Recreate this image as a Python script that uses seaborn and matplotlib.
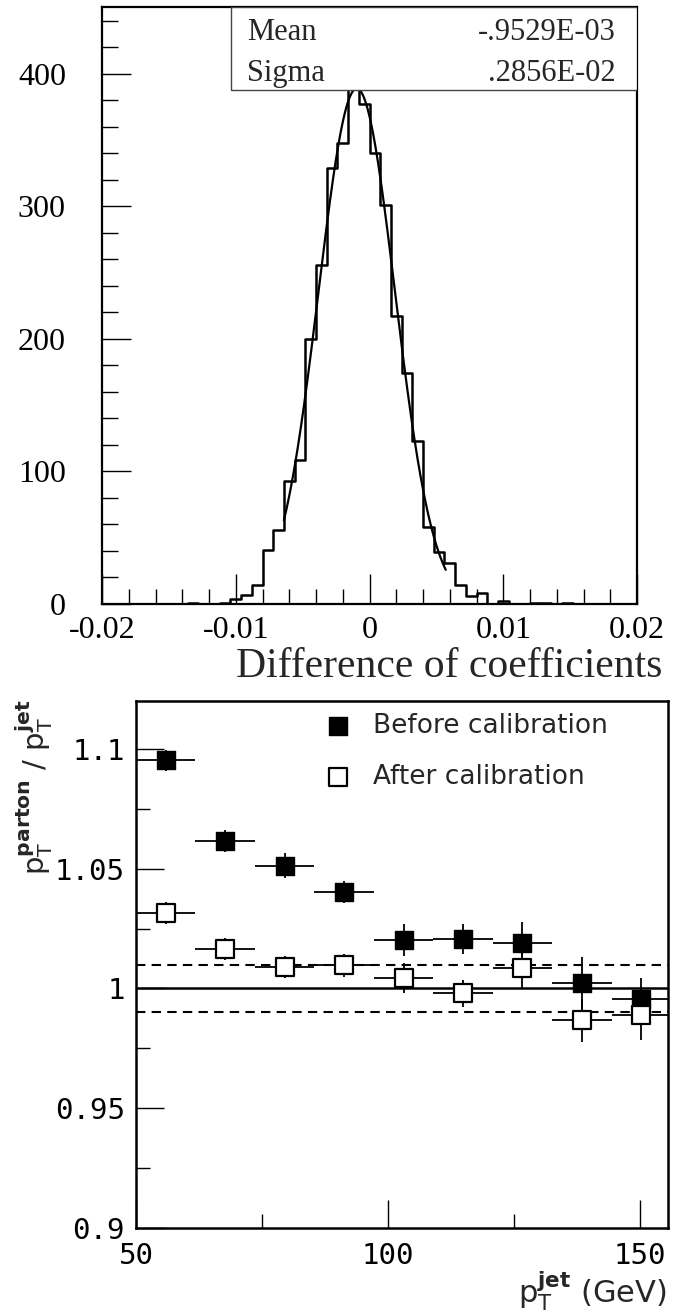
import numpy as np
import pandas as pd
import matplotlib
matplotlib.use("Agg")
import matplotlib.pyplot as plt
from matplotlib.patches import Rectangle
from matplotlib.ticker import MultipleLocator, FixedLocator
import seaborn as sns

# ---------------- data: top panel (histogram of coefficient differences)
hist_lo, hist_hi, n_bins = -0.02, 0.02, 50
hist_counts = [0, 0, 0, 0, 0, 0, 0, 0, 1, 0,
               0, 1, 4, 7, 14, 41, 56, 93, 109, 200,
               256, 329, 348, 402, 377, 340, 301, 217, 174, 123,
               58, 39, 31, 14, 6, 8, 0, 2, 0, 0,
               1, 1, 0, 1, 0, 0, 0, 0, 0, 0]
fit_amp = 389.0
fit_mean = -0.9529e-3
fit_sigma = 0.2856e-2
fit_range = (-0.0064, 0.0057)
stat_names = ["Mean", "Sigma"]
stat_values = ["-.9529E-03", ".2856E-02"]
top_xticks = [-0.02, -0.01, 0.0, 0.01, 0.02]
top_xticklabels = ["-0.02", "-0.01", "0", "0.01", "0.02"]
top_yticks = [0, 100, 200, 300, 400]
top_yticklabels = ["0", "100", "200", "300", "400"]

# ---------------- data: bottom panel (ratio vs jet pT)
pt_jet = [55.9, 67.7, 79.5, 91.3, 103.1, 114.9, 126.7, 138.5, 150.3]
pt_halfwidth = 5.9
ratio_before = [1.0952, 1.0615, 1.0513, 1.0401, 1.0202, 1.0208, 1.0188, 1.0021, 0.9958]
err_before = [0.0045, 0.0045, 0.0053, 0.0046, 0.0065, 0.0063, 0.0089, 0.0110, 0.0084]
ratio_after = [1.0314, 1.0165, 1.0091, 1.0096, 1.0042, 0.9979, 1.0085, 0.9868, 0.9889]
err_after = [0.0045, 0.0046, 0.0046, 0.0047, 0.0063, 0.0055, 0.0086, 0.0090, 0.0105]
ref_lines = [0.99, 1.0, 1.01]
bot_yticks = [0.9, 0.95, 1.0, 1.05, 1.1]
bot_yticklabels = ["0.9", "0.95", "1", "1.05", "1.1"]
bot_xticks = [50, 100, 150]
bot_xticklabels = ["50", "100", "150"]

sns.set_theme(style="ticks")
plt.rcParams["font.family"] = ["DejaVu Sans"]
plt.rcParams["mathtext.fontset"] = "dejavusans"

W, H = 683, 1315
fig = plt.figure(figsize=(W / 100, H / 100), dpi=100)
fig.patch.set_facecolor("white")

def fx(px):
    return px / W

def fy(py):
    return 1 - py / H

# ================= top panel
ax1 = fig.add_axes([fx(102), fy(604), fx(637) - fx(102), fy(7) - fy(604)])
edges = np.linspace(hist_lo, hist_hi, n_bins + 1)
centers = 0.5 * (edges[:-1] + edges[1:])
hdf = pd.DataFrame({"diff": centers, "count": np.asarray(hist_counts, dtype=float)})
sns.histplot(data=hdf, x="diff", weights="count", bins=n_bins,
             binrange=(hist_lo, hist_hi), element="step",
             fill=False, color="black", linewidth=1.8, ax=ax1)

xf = np.linspace(fit_range[0], fit_range[1], 300)
yf = fit_amp * np.exp(-0.5 * ((xf - fit_mean) / fit_sigma) ** 2)
sns.lineplot(x=xf, y=yf, color="black", linewidth=1.6, ax=ax1, sort=False)

ax1.set_xlim(hist_lo, hist_hi)
ax1.set_ylim(0, 450.5)
ax1.set_xlabel("")
ax1.set_ylabel("")
ax1.set_facecolor("white")
for s in ax1.spines.values():
    s.set_color("black")
    s.set_linewidth(1.6)
ax1.xaxis.set_major_locator(FixedLocator(top_xticks))
ax1.set_xticklabels(top_xticklabels)
ax1.xaxis.set_minor_locator(MultipleLocator(0.002))
ax1.yaxis.set_major_locator(FixedLocator(top_yticks))
ax1.set_yticklabels(top_yticklabels)
ax1.yaxis.set_minor_locator(MultipleLocator(20))
ax1.tick_params(axis="both", which="both", direction="in", color="black", width=1.0,
                top=False, right=False, labelfontfamily="Liberation Serif",
                labelsize=23, labelcolor="black")
ax1.tick_params(axis="x", which="major", length=21.5, pad=9)
ax1.tick_params(axis="x", which="minor", length=10.8)
ax1.tick_params(axis="y", which="major", length=21, pad=26)
ax1.tick_params(axis="y", which="minor", length=11.5)

# stats box
bx0 = (231 - 102) / 535
by0 = (604 - 90) / 597
ax1.add_patch(Rectangle((bx0, by0), 1 - bx0, 1 - by0, transform=ax1.transAxes,
                        fill=True, facecolor="white", edgecolor="#444444",
                        linewidth=1.0, zorder=5))
for name, val, ypx in zip(stat_names, stat_values, [40, 81]):
    yy = (604 - ypx) / 597
    ax1.text((247 - 102) / 535, yy, name, transform=ax1.transAxes, ha="left",
             va="baseline", fontsize=22, family="Liberation Serif", zorder=6)
    ax1.text((616 - 102) / 535, yy, val, transform=ax1.transAxes, ha="right",
             va="baseline", fontsize=22, family="Liberation Serif", zorder=6)

fig.text(fx(662), fy(677), "Difference of coefficients", ha="right", va="baseline",
         fontsize=30, family="Liberation Serif")

# ================= bottom panel
ax2 = fig.add_axes([fx(136), fy(1228), fx(668) - fx(136), fy(701) - fy(1228)])
ax2.set_facecolor("white")
ax2.axhline(ref_lines[1], color="black", linewidth=1.8, zorder=1)
for v in (ref_lines[0], ref_lines[2]):
    ax2.axhline(v, color="black", linewidth=1.5, linestyle=(0, (4.5, 3)), zorder=1)

ax2.errorbar(pt_jet, ratio_before, xerr=pt_halfwidth, yerr=err_before, fmt="none",
             ecolor="black", elinewidth=1.3, capsize=0, zorder=2)
ax2.errorbar(pt_jet, ratio_after, xerr=pt_halfwidth, yerr=err_after, fmt="none",
             ecolor="black", elinewidth=1.3, capsize=0, zorder=2)

bdf = pd.DataFrame({"pt": pt_jet, "before": ratio_before, "after": ratio_after})
sns.scatterplot(data=bdf, x="pt", y="before", marker="s", s=175, color="black",
                edgecolor="black", linewidth=1.0, ax=ax2, zorder=3,
                label="Before calibration")
sns.scatterplot(data=bdf, x="pt", y="after", marker="s", s=160, facecolor="white",
                edgecolor="black", linewidth=1.6, ax=ax2, zorder=4,
                label="After calibration")

ax2.set_xlim(50, 155.6)
ax2.set_ylim(0.9, 1.12)
ax2.set_xlabel("")
ax2.set_ylabel("")
for s in ax2.spines.values():
    s.set_color("black")
    s.set_linewidth(1.8)
ax2.xaxis.set_major_locator(FixedLocator(bot_xticks))
ax2.set_xticklabels(bot_xticklabels)
ax2.xaxis.set_minor_locator(FixedLocator([75, 125]))
ax2.yaxis.set_major_locator(FixedLocator(bot_yticks))
ax2.set_yticklabels(bot_yticklabels)
ax2.yaxis.set_minor_locator(FixedLocator([0.925, 0.975, 1.025, 1.075]))
ax2.tick_params(axis="both", which="both", direction="in", color="black", width=1.0,
                top=False, right=False, labelfontfamily="DejaVu Sans Mono",
                labelsize=21, labelcolor="black")
ax2.tick_params(axis="both", which="major", length=20)
ax2.tick_params(axis="both", which="minor", length=10)
ax2.tick_params(axis="x", which="major", pad=10)
ax2.tick_params(axis="y", which="major", pad=8)

leg = ax2.legend(loc="upper left", bbox_to_anchor=(fx(327), fy(713)),
                 bbox_transform=fig.transFigure, frameon=False, fontsize=19,
                 borderpad=0, borderaxespad=0, handlelength=0.8,
                 handletextpad=0.95, labelspacing=0.95, markerscale=1.0)

fig.text(fx(34), fy(700), r"$\mathsf{p_T^{\mathbf{parton}}}$ / $\mathsf{p_T^{\mathbf{jet}}}$",
         rotation=90, ha="center", va="top", fontsize=21)
fig.text(fx(667), fy(1291), r"$\mathsf{p_T^{\mathbf{jet}}}$ (GeV)", ha="right",
         va="center", fontsize=22)

fig.savefig("out.png", dpi=100, facecolor="white")
